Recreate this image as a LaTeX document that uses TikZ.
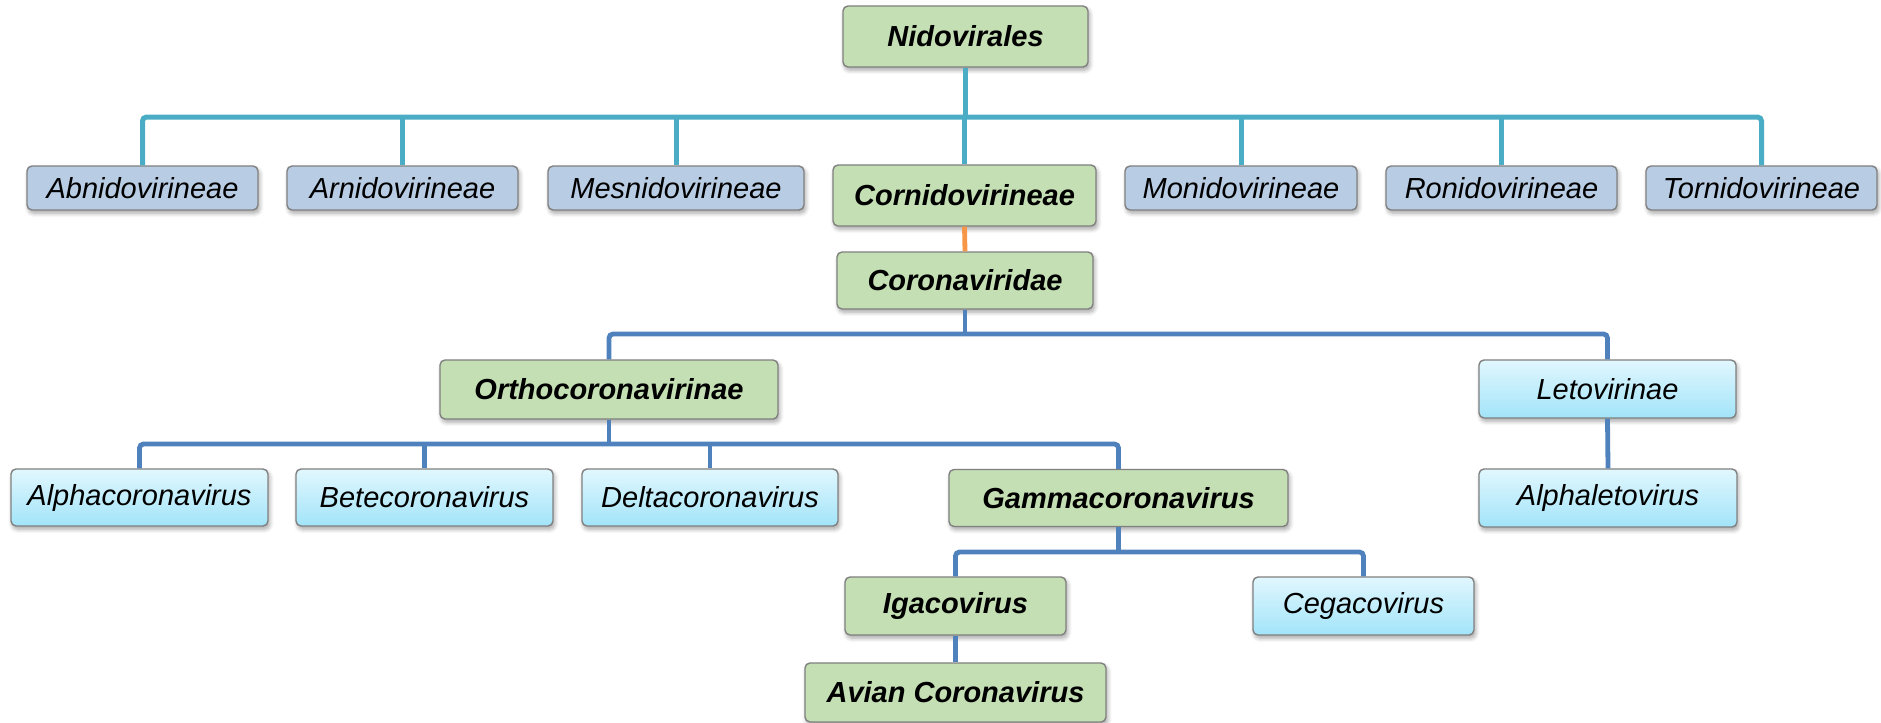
\documentclass[tikz,border=0pt]{standalone}
\usepackage{fontspec}
\setmainfont{Liberation Sans}
\usetikzlibrary{shadows.blur}

\definecolor{taxgreen}{RGB}{196,223,179}
\definecolor{taxslate}{RGB}{184,204,228}
\definecolor{cyantop}{RGB}{225,247,254}
\definecolor{cyanbot}{RGB}{162,228,249}
\definecolor{boxline}{RGB}{128,128,128}
\definecolor{linkteal}{RGB}{75,172,198}
\definecolor{linkblue}{RGB}{79,129,189}
\definecolor{linkorange}{RGB}{247,150,70}

\tikzset{
  taxbox/.style={draw=boxline, line width=0.7pt, rounded corners=2.5pt,
    inner sep=0pt, align=center,
    font=\fontsize{14.5}{17}\selectfont\itshape,
    blur shadow={shadow xshift=0.8pt, shadow yshift=-1.6pt,
      shadow blur steps=6, shadow opacity=35}},
  keybox/.style={taxbox, fill=taxgreen,
    font=\fontsize{14.5}{17}\selectfont\bfseries\itshape},
  subbox/.style={taxbox, fill=taxslate},
  genbox/.style={taxbox, top color=cyantop, bottom color=cyanbot},
  tealink/.style={draw=linkteal, line width=2.5pt, rounded corners=2pt},
  bluelink/.style={draw=linkblue, line width=2.4pt, rounded corners=2pt},
  orangelink/.style={draw=linkorange, line width=2.4pt}
}

% \taxnode{name}{style}{cx}{cy}{width}{height}{label}, sizes in pixels
\newcommand{\taxnode}[7]{%
  \node[#2, minimum width=#5*0.5pt, minimum height=#6*0.5pt] (#1) at (#3,#4) {#7};}

\begin{document}
\begin{tikzpicture}[x=0.5pt, y=-0.5pt]
\useasboundingbox (0,0) rectangle (1881,723);

% order
\taxnode{nido}{keybox}{965.5}{36.5}{245}{61}{Nidovirales}
% suborders
\taxnode{abn}{subbox}{142.5}{188}{231}{44}{Abnidovirineae}
\taxnode{arn}{subbox}{402.5}{188}{231}{44}{Arnidovirineae}
\taxnode{mes}{subbox}{676}{188}{256}{44}{Mesnidovirineae}
\taxnode{cor}{keybox}{964.5}{195.5}{263}{61}{Cornidovirineae}
\taxnode{mon}{subbox}{1241}{188}{232}{44}{Monidovirineae}
\taxnode{ron}{subbox}{1501.5}{188}{231}{44}{Ronidovirineae}
\taxnode{tor}{subbox}{1761.5}{188}{231}{44}{Tornidovirineae}
% family
\taxnode{cvd}{keybox}{965}{280.5}{256}{57}{Coronaviridae}
% subfamilies
\taxnode{ortho}{keybox}{609}{389.5}{338}{59}{Orthocoronavirinae}
\taxnode{leto}{genbox}{1607.5}{389}{257}{58}{Letovirinae}
% genera
\taxnode{alpha}{genbox}{139.5}{497.5}{257}{57}{Alphacoronavirus}
\taxnode{beta}{genbox}{424.5}{497.5}{257}{57}{Betecoronavirus}
\taxnode{delta}{genbox}{710}{497.5}{256}{57}{Deltacoronavirus}
\taxnode{gamma}{keybox}{1118.5}{498}{339}{57}{Gammacoronavirus}
\taxnode{alet}{genbox}{1608}{498}{258}{58}{Alphaletovirus}
% subgenera
\taxnode{iga}{keybox}{955.5}{606}{221}{58}{Igacovirus}
\taxnode{cega}{genbox}{1363.5}{606}{221}{58}{Cegacovirus}
% species
\taxnode{avian}{keybox}{955.5}{692.5}{301}{59}{Avian Coronavirus}

% junction points of the branching bars
\coordinate (jnido) at (965.5,117);
\coordinate (jcvd) at (965,334);
\coordinate (jortho) at (609,444);
\coordinate (jgamma) at (1118.5,552);

% Nidovirales -> suborders
\draw[tealink] (nido.south) -- (jnido);
\draw[tealink] (abn.north) -- (abn.north |- jnido) -- (tor.north |- jnido) -- (tor.north);
\foreach \n in {arn,mes,cor,mon,ron}
  \draw[tealink, rounded corners=0pt] (\n.north) -- (\n.north |- jnido);

% Cornidovirineae -> Coronaviridae
\draw[orangelink] (cor.south) -- (cvd.north);

% Coronaviridae -> subfamilies
\draw[bluelink] (cvd.south) -- (jcvd);
\draw[bluelink] (ortho.north) -- (ortho.north |- jcvd) -- (leto.north |- jcvd) -- (leto.north);

% Orthocoronavirinae -> genera
\draw[bluelink] (ortho.south) -- (jortho);
\draw[bluelink] (alpha.north) -- (alpha.north |- jortho) -- (gamma.north |- jortho) -- (gamma.north);
\foreach \n in {beta,delta}
  \draw[bluelink, rounded corners=0pt] (\n.north) -- (\n.north |- jortho);

% Letovirinae -> Alphaletovirus
\draw[bluelink] (leto.south) -- (alet.north);

% Gammacoronavirus -> subgenera
\draw[bluelink] (gamma.south) -- (jgamma);
\draw[bluelink] (iga.north) -- (iga.north |- jgamma) -- (cega.north |- jgamma) -- (cega.north);

% Igacovirus -> Avian Coronavirus
\draw[bluelink] (iga.south) -- (avian.north);
\end{tikzpicture}
\end{document}
